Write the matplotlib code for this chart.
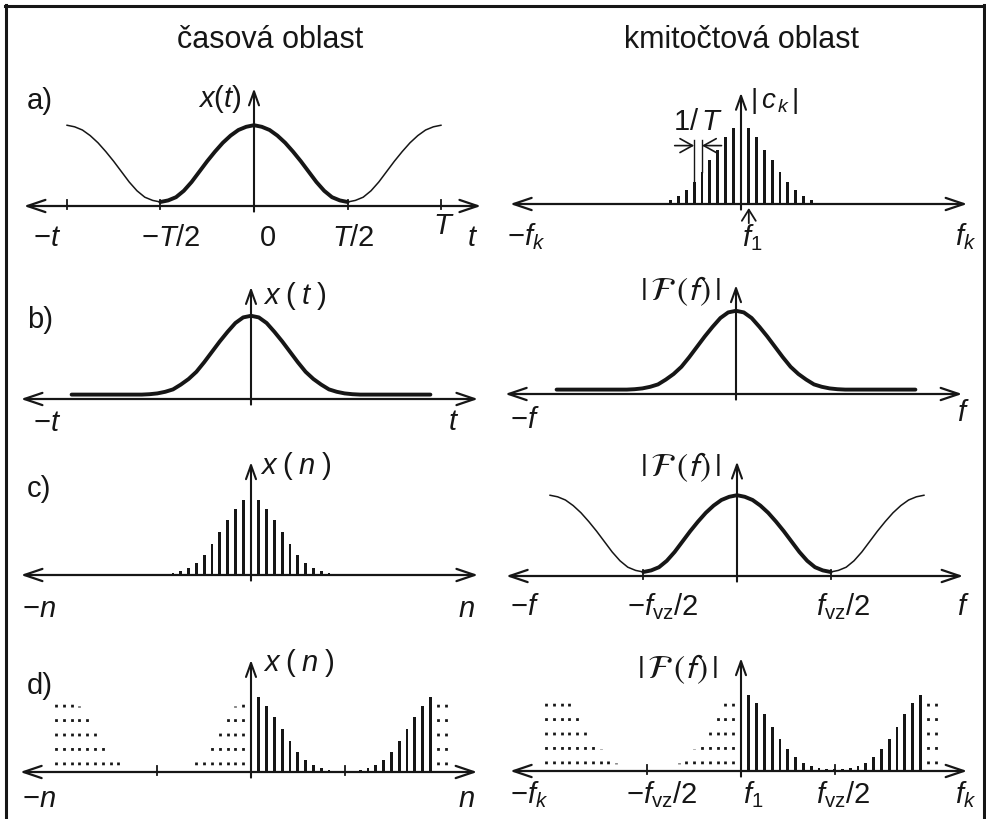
import numpy as np
import matplotlib
matplotlib.use("Agg")
import matplotlib.pyplot as plt
from matplotlib.lines import Line2D

W, H, DPI = 986, 819, 100
SX = 7.8     # pixels per sample step
SY = 80.0    # pixels per unit amplitude
INK = "#161616"

plt.rcParams["font.family"] = ["Liberation Sans", "DejaVu Sans"]
plt.rcParams["mathtext.fontset"] = "custom"
plt.rcParams["mathtext.rm"] = "Liberation Sans"
plt.rcParams["mathtext.it"] = "Liberation Sans:italic"
plt.rcParams["mathtext.bf"] = "Liberation Sans:bold"

# ---------------------------------------------------------------- data
N_PERIOD = 24  # samples per period

# periodic continuous curve, offsets 0..12 samples from the peak
periodic_curve = [1.01, 0.99, 0.95, 0.88, 0.79, 0.68, 0.56, 0.43, 0.30,
                  0.19, 0.11, 0.07, 0.05]
# single (non-periodic) pulse, offsets 0..23 samples from the peak
pulse_curve = [1.04, 1.02, 0.95, 0.84, 0.72, 0.59, 0.46, 0.34, 0.25, 0.18,
               0.12, 0.09, 0.07, 0.06, 0.055, 0.055, 0.055, 0.055, 0.055,
               0.055, 0.055, 0.055, 0.055, 0.055]
# Fourier series coefficients |c_k|, k = 0..9
fourier_coeffs = [0.955, 0.946, 0.84, 0.68, 0.55, 0.40, 0.27, 0.17, 0.10, 0.05]
# sampled signal x(n), n = 0..12
sampled_signal = [0.97, 0.935, 0.83, 0.69, 0.54, 0.385, 0.255, 0.155, 0.085,
                  0.045, 0.02, 0.01, 0.008]
# DFT magnitude samples, n = 0..12
dft_values = [0.98, 0.945, 0.85, 0.71, 0.55, 0.40, 0.27, 0.175, 0.10, 0.06,
              0.04, 0.025, 0.02]

col_titles = ["časová oblast", "kmitočtová oblast"]
row_tags = ["a)", "b)", "c)", "d)"]


def periodic(half, n):
    m = np.mod(n, N_PERIOD)
    idx = np.minimum(m, N_PERIOD - m)
    return np.asarray(half)[idx]


fig = plt.figure(figsize=(W / DPI, H / DPI), dpi=DPI)
fig.patch.set_facecolor("white")


def panel(cx, ay):
    ax = fig.add_axes([0, 0, 1, 1])
    ax.set_xlim(-cx / SX, (W - cx) / SX)
    ax.set_ylim((ay - H) / SY, ay / SY)
    ax.axis("off")
    ax.patch.set_alpha(0)
    return ax


def axes_arrows(ax, x0, x1, ytop, ticks=()):
    ax.annotate("", xy=(x1, 0), xytext=(x0, 0),
                arrowprops=dict(arrowstyle="<->,head_length=0.65,head_width=0.22",
                                lw=1.6, color=INK, shrinkA=0, shrinkB=0,
                                mutation_scale=20))
    ax.annotate("", xy=(0, ytop), xytext=(0, -0.07),
                arrowprops=dict(arrowstyle="->,head_length=0.5,head_width=0.18",
                                lw=1.5, color=INK, shrinkA=0, shrinkB=0,
                                mutation_scale=20))
    for t in ticks:
        ax.plot([t, t], [-0.04, 0.07], color=INK, lw=1.3)


def curve(ax, x, y, lw):
    ax.plot(x, y, color=INK, lw=lw, solid_joinstyle="round",
            solid_capstyle="round")


def txt(x, y, s, ha="left", size=21, **kw):
    fig.text(x / W, 1 - y / H, s, ha=ha, va="baseline", fontsize=size,
             color=INK, **kw)


DOTS = (2.6, (1.0, 4.2))


def sample_bars(ax, n, vals, dotted=False):
    if dotted:
        ax.vlines(n, 0, vals, colors=INK, lw=2.0, linestyles=[DOTS])
    else:
        ax.bar(n, vals, width=0.38, color=INK, linewidth=0)


# ---------------------------------------------------------------- a) left
ax = panel(254, 206)
axes_arrows(ax, -29.5, 29.1, 1.47, ticks=(-24, -12, 12, 24))
n = np.arange(-24, 25)
y = periodic(periodic_curve, n)
curve(ax, n[n <= -12], y[n <= -12], 1.1)
curve(ax, n[n >= 12], y[n >= 12], 1.1)
curve(ax, n[np.abs(n) <= 12], y[np.abs(n) <= 12], 2.8)

# ---------------------------------------------------------------- a) right
ax = panel(741, 204)
axes_arrows(ax, -29.6, 29.0, 1.39)
k = np.arange(-9, 10)
ck = np.asarray(fourier_coeffs)[np.abs(k)]
sample_bars(ax, k, ck)
for kk in (-6, -5):
    ax.plot([kk, kk], [ck[kk + 9], 0.80], color=INK, lw=1.0)
ax.annotate("", xy=(-6, 0.73), xytext=(-8.5, 0.73),
            arrowprops=dict(arrowstyle="->,head_length=0.45,head_width=0.25",
                            lw=1.2, color=INK, shrinkA=0, shrinkB=0,
                            mutation_scale=20))
ax.annotate("", xy=(-5, 0.73), xytext=(-2.5, 0.73),
            arrowprops=dict(arrowstyle="->,head_length=0.45,head_width=0.25",
                            lw=1.2, color=INK, shrinkA=0, shrinkB=0,
                            mutation_scale=20))
ax.annotate("", xy=(1, -0.05), xytext=(1, -0.24),
            arrowprops=dict(arrowstyle="->,head_length=0.4,head_width=0.25",
                            lw=1.3, color=INK, shrinkA=0, shrinkB=0,
                            mutation_scale=20))

# ---------------------------------------------------------------- b) left
ax = panel(251, 399)
axes_arrows(ax, -29.5, 29.1, 1.4)
n = np.arange(-23, 24)
curve(ax, n, np.asarray(pulse_curve)[np.abs(n)], 2.8)

# ---------------------------------------------------------------- b) right
ax = panel(736, 394)
axes_arrows(ax, -29.6, 29.0, 1.36)
curve(ax, n, np.asarray(pulse_curve)[np.abs(n)], 2.8)

# ---------------------------------------------------------------- c) left
ax = panel(251, 575)
axes_arrows(ax, -29.5, 29.1, 1.41)
n = np.arange(-12, 13)
sample_bars(ax, n, np.asarray(sampled_signal)[np.abs(n)])

# ---------------------------------------------------------------- c) right
ax = panel(737, 576)
axes_arrows(ax, -29.6, 29.0, 1.43, ticks=(-12, 12))
n = np.arange(-24, 25)
y = periodic(periodic_curve, n)
curve(ax, n[n <= -12], y[n <= -12], 1.1)
curve(ax, n[n >= 12], y[n >= 12], 1.1)
curve(ax, n[np.abs(n) <= 12], y[np.abs(n) <= 12], 2.8)

# ---------------------------------------------------------------- d) both
n_all = np.arange(-25, 26)
one_period = (n_all >= 0) & (n_all < N_PERIOD)
for cx, ay, vals, top in ((251, 772, sampled_signal, 1.4),
                          (741, 771, dft_values, 1.41)):
    ax = panel(cx, ay)
    axes_arrows(ax, -29.6, 29.0, top, ticks=(-12, 12))
    v = periodic(vals, n_all)
    sample_bars(ax, n_all[~one_period], v[~one_period], dotted=True)
    sample_bars(ax, n_all[one_period], v[one_period])

# ---------------------------------------------------------------- text
txt(270, 48, col_titles[0], ha="center", size=22)
txt(742, 48, col_titles[1], ha="center", size=22)

for tag, yb in zip(row_tags, (109, 328, 497, 694)):
    txt(27, yb, tag)

FF = r"$|\,\mathcal{F}\,(f)\,|$"

# a)
txt(198, 107, r"$x(t)$")
txt(47, 246, r"$-t$", ha="center")
txt(171, 246, r"$-T/2$", ha="center")
txt(268, 246, "0", ha="center")
txt(353, 246, r"$T/2$", ha="center")
txt(444, 234, r"$T$", ha="center")
txt(473, 246, r"$t$", ha="center")
txt(750, 108, r"$|\,c_{\,k}\,|$", size=20)
txt(673, 130, r"$1/\,T$")
txt(507, 245, r"$-f_k$")
txt(752, 246, r"$f_1$", ha="center")
txt(955, 245, r"$f_k$")

# b)
txt(263, 304, r"$x\;(\;t\;)$")
txt(33, 431, r"$-t$")
txt(448, 430, r"$t$")
txt(640, 300, FF, size=24, math_fontfamily="stixsans")
txt(510, 428, r"$-f$")
txt(957, 421, r"$f$")

# c)
txt(260, 474, r"$x\;(\;n\;)$")
txt(22, 617, r"$-n$")
txt(458, 617, r"$n$")
txt(640, 476, FF, size=24, math_fontfamily="stixsans")
txt(510, 615, r"$-f$")
txt(663, 615, r"$-f_{\mathrm{vz}}/2$", ha="center")
txt(843, 615, r"$f_{\mathrm{vz}}/2$", ha="center")
txt(957, 615, r"$f$")

# d)
txt(263, 671, r"$x\;(\;n\;)$")
txt(22, 807, r"$-n$")
txt(458, 807, r"$n$")
txt(637, 678, FF, size=24, math_fontfamily="stixsans")
txt(510, 803, r"$-f_k$")
txt(662, 803, r"$-f_{\mathrm{vz}}/2$", ha="center")
txt(753, 803, r"$f_1$", ha="center")
txt(843, 803, r"$f_{\mathrm{vz}}/2$", ha="center")
txt(955, 803, r"$f_k$")

# frame
for xs, ys in (([6, 6], [5, H]), ([5, W], [6, 6]), ([984, 984], [5, H])):
    fig.add_artist(Line2D([x / W for x in xs], [1 - y / H for y in ys],
                          transform=fig.transFigure, lw=2.2, color=INK))

fig.savefig("out.png", dpi=DPI, facecolor="white")
